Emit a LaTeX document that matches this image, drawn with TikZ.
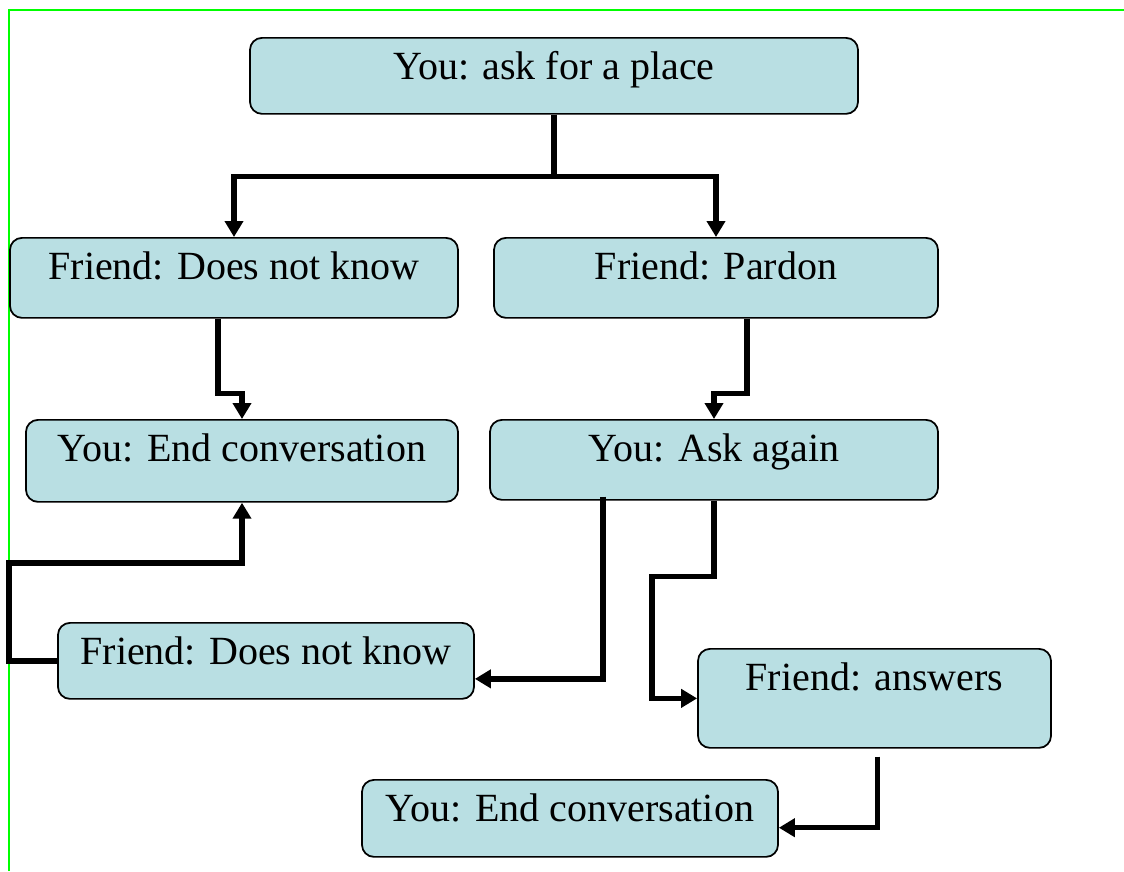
\documentclass[tikz,border=0pt]{standalone}
\usepackage{fontspec}
\setmainfont{Liberation Serif}
\usetikzlibrary{arrows.meta}
\definecolor{boxfill}{RGB}{185,223,227}
\definecolor{framegreen}{RGB}{0,255,0}
\begin{document}
\begin{tikzpicture}[x=0.75pt,y=-0.75pt,
  box/.style={draw=black, line width=1.3pt, fill=boxfill, rounded corners=9pt,
    inner xsep=0pt, inner ysep=0pt, text height=31.5pt, anchor=north,
    font=\fontsize{30pt}{36pt}\selectfont},
  conn/.style={draw=black, line width=4pt, line join=miter,
    -{Triangle[length=12pt,width=13.5pt]}}]
\useasboundingbox (0,0) rectangle (1124,871);

% frame lines
\draw[framegreen, line width=1.6pt] (9,871) -- (9,10) -- (1124,10);

% boxes
\node[box, minimum width=456pt, text depth=25.5pt] (ask) at (554,37) {You: ask for a place};
\node[box, minimum width=336pt, text depth=28.5pt] (dnk1) at (234,237) {Friend: Does not know};
\node[box, minimum width=333pt, text depth=28.5pt] (pardon) at (716,237) {Friend: Pardon};
\node[box, minimum width=324pt, text depth=30pt] (end1) at (242,419) {You: End conversation};
\node[box, minimum width=336pt, text depth=28.5pt] (again) at (714,419) {You: Ask again};
\node[box, minimum width=312pt, text depth=25.5pt] (dnk2) at (266,622) {Friend: Does not know};
\node[box, minimum width=264.75pt, text depth=42.75pt] (answers) at (874.5,648) {Friend: answers};
\node[box, minimum width=312pt, text depth=26.25pt] (end2) at (570,779) {You: End conversation};

% connectors
\draw[conn] (ask.south) -- ++(0,62) -| (dnk1.north);
\draw[conn] (ask.south) -- ++(0,62) -| (pardon.north);
\draw[conn] ([xshift=-12pt]dnk1.south) -- ++(0,75) -| (end1.north);
\draw[conn] ([xshift=23.25pt]pardon.south) -- ++(0,75) -| (again.north);
\draw[conn] (dnk2.west) -- ++(-48,0) -- ++(0,-98) -| (end1.south);
\draw[conn] ([xshift=-83.25pt,yshift=3pt]again.south) |- ([yshift=-13.5pt]dnk2.east);
\draw[conn] (again.south) -- ++(0,76) -- ++(-62,0) |- (answers.west);
\draw[conn] ([xshift=2pt,yshift=-6pt]answers.south) |- ([yshift=-7pt]end2.east);
\end{tikzpicture}
\end{document}
